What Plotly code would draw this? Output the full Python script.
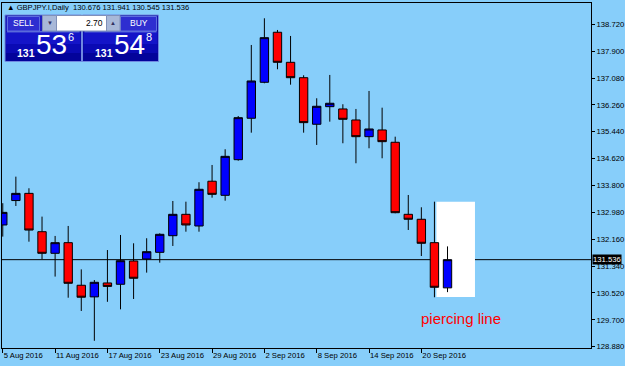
import plotly.graph_objects as go

# ---------------- data ----------------
dates = ["2016-08-05", "2016-08-08", "2016-08-09", "2016-08-10", "2016-08-11", "2016-08-12",
         "2016-08-15", "2016-08-16", "2016-08-17", "2016-08-18", "2016-08-19",
         "2016-08-22", "2016-08-23", "2016-08-24", "2016-08-25", "2016-08-26",
         "2016-08-29", "2016-08-30", "2016-08-31", "2016-09-01", "2016-09-02",
         "2016-09-05", "2016-09-06", "2016-09-07", "2016-09-08", "2016-09-09",
         "2016-09-12", "2016-09-13", "2016-09-14", "2016-09-15", "2016-09-16",
         "2016-09-19", "2016-09-20", "2016-09-21", "2016-09-22"]

opens = [132.595, 133.34, 133.56, 132.39, 131.73, 132.055, 130.755, 130.40, 130.825, 130.785,
         131.495, 131.557, 131.76, 132.268, 132.92, 132.564, 133.93, 133.50, 134.588, 135.852,
         136.95, 138.477, 137.56, 137.09, 135.669, 136.206, 136.136, 135.80, 135.29, 135.495,
         135.119, 132.92, 132.769, 132.055, 130.676]
highs = [133.26, 134.07, 133.715, 132.85, 132.26, 132.565, 131.24, 130.915, 131.83, 132.29,
         132.036, 132.19, 132.34, 133.327, 133.306, 133.90, 134.426, 134.906, 135.92, 138.089,
         138.904, 138.547, 138.364, 137.164, 136.462, 137.174, 136.28, 136.136, 136.685, 136.175,
         135.29, 133.51, 133.135, 133.306, 131.941]
lows = [132.24, 133.175, 132.085, 131.55, 131.02, 130.375, 129.97, 129.06, 130.25, 130.02,
        130.336, 131.14, 131.444, 131.954, 132.39, 132.39, 133.428, 133.336, 134.557, 135.412,
        136.92, 137.348, 136.877, 135.412, 135.037, 135.748, 135.089, 134.478, 134.936, 134.631,
        132.952, 132.442, 131.648, 130.388, 130.545]
closes = [132.98, 133.56, 132.44, 131.73, 132.055, 130.815, 130.39, 130.845, 130.72, 131.505,
          130.968, 131.78, 132.31, 132.92, 132.595, 133.684, 133.53, 134.69, 135.87, 136.99,
          138.312, 137.56, 137.09, 135.718, 136.218, 136.31, 135.82, 135.29, 135.525, 135.138,
          132.97, 132.769, 132.036, 130.693, 131.536]

date_tick_dates = ["2016-08-05", "2016-08-11", "2016-08-17", "2016-08-23", "2016-08-29",
                   "2016-09-02", "2016-09-08", "2016-09-14", "2016-09-20"]
date_tick_labels = ["5 Aug 2016", "11 Aug 2016", "17 Aug 2016", "23 Aug 2016", "29 Aug 2016",
                    "2 Sep 2016", "8 Sep 2016", "14 Sep 2016", "20 Sep 2016"]
price_ticks = [128.880, 129.700, 130.520, 131.340, 132.160, 132.980, 133.800,
               134.620, 135.440, 136.260, 137.080, 137.900, 138.720]
current_price = 131.536
pattern_box = {"x0": 33.15, "x1": 36.1, "y0": 130.40, "y1": 133.30}
symbol_title = "GBPJPY.I,Daily"
sell_price = ("131", "53", "6")
buy_price = ("131", "54", "8")
lot_size = "2.70"

# ---------------- layout geometry ----------------
W_FIG, H_FIG = 625, 366
L, T, R, B = 2, 3, 34, 18
PW, PH = W_FIG - L - R, H_FIG - T - B


def px(x):
    return (x - L) / PW


def py(y):
    return 1 - (y - T) / PH


FONT = "Liberation Sans, Arial, sans-serif"

fig = go.Figure()
fig.add_trace(go.Candlestick(
    x=dates, open=opens, high=highs, low=lows, close=closes,
    increasing=dict(line=dict(color="black", width=1), fillcolor="#0000FF"),
    decreasing=dict(line=dict(color="black", width=1), fillcolor="#FF0000"),
    whiskerwidth=0, showlegend=False, hoverinfo="skip",
))

shapes = []
# pattern highlight box
shapes.append(dict(type="rect", xref="x", yref="y", layer="below",
                   x0=pattern_box["x0"], x1=pattern_box["x1"],
                   y0=pattern_box["y0"], y1=pattern_box["y1"],
                   fillcolor="white", line=dict(width=0)))
# bid line
shapes.append(dict(type="line", xref="paper", yref="y", layer="below",
                   x0=0, x1=1, y0=current_price, y1=current_price,
                   line=dict(color="black", width=1)))


def prect(x0, y0, x1, y1, fill, line=None, lw=0):
    shapes.append(dict(type="rect", xref="paper", yref="paper", layer="above",
                       x0=px(x0), x1=px(x1), y0=py(y1), y1=py(y0),
                       fillcolor=fill,
                       line=dict(color=line or fill, width=lw)))


# one-click trading panel
for (xa, xb) in [(5, 81.5), (82.5, 158.5)]:
    prect(xa, 15, xb, 61.5, "#06069A", "#7088E0", 1)
    prect(xa + 1, 32, xb - 1, 44, "#1414C8")
    prect(xa + 1, 44, xb - 1, 53, "#0A0AB4")
    prect(xa + 1, 53, xb - 1, 61, "#03039A")
    prect(xa + 1, 16, xb - 1, 31.5, "#1E1EC0")
    shapes.append(dict(type="line", xref="paper", yref="paper", layer="above",
                       x0=px(xa + 2), x1=px(xb - 2), y0=py(31.8), y1=py(31.8),
                       line=dict(color="#7890E8", width=1)))
prect(7.5, 16.5, 39.5, 31, "#2E2ED0", "#5C6CE0", 1)
prect(120.5, 16.5, 156.5, 31, "#2E2ED0", "#5C6CE0", 1)
prect(42.5, 15.5, 56.5, 31, "#A8B8D8", "#8090B8", 1)
prect(106.5, 15.5, 120, 31, "#A8B8D8", "#8090B8", 1)
prect(56.5, 15.5, 106.5, 31, "white", "#8090B8", 1)

annotations = []


def ptext(x, y, text, size, color="white", xanchor="center", yanchor="middle", weight="normal"):
    annotations.append(dict(xref="paper", yref="paper", x=px(x), y=py(y), text=text,
                            showarrow=False, xanchor=xanchor, yanchor=yanchor,
                            font=dict(family=FONT, size=size, color=color, weight=weight)))


header_values = " ".join(f"{v:.3f}" for v in (opens[-1], highs[-1], lows[-1], closes[-1]))
ptext(5, 7, "\u25B2 " + symbol_title + "  " + header_values, 7.6, "black", xanchor="left")
ptext(23.5, 23.5, "SELL", 8.5)
ptext(138.5, 23.5, "BUY", 8.5)
ptext(49.5, 23.5, "\u25BC", 6, "#303060")
ptext(113.3, 23.5, "\u25B2", 6, "#303060")
ptext(104.5, 23.5, lot_size, 8.5, "black", xanchor="right")
for (x_small, x_big, x_sup, parts) in [(25.5, 51.5, 70.5, sell_price), (103.5, 129.5, 148.5, buy_price)]:
    ptext(x_small, 52.5, parts[0], 10.5, weight="bold")
    ptext(x_big, 45, parts[1], 28)
    ptext(x_sup, 37, parts[2], 11)

# pattern label
annotations.append(dict(xref="paper", yref="paper", x=px(461), y=py(318), text="piercing line",
                        showarrow=False, xanchor="center", yanchor="middle",
                        font=dict(family=FONT, size=15, color="#FF0000")))
# current price tag
annotations.append(dict(xref="paper", yref="y", x=1, y=current_price, text=f"{current_price:.3f}",
                        showarrow=False, xanchor="left", yanchor="middle", xshift=1,
                        bgcolor="black", borderpad=0,
                        font=dict(family=FONT, size=7.7, color="white")))

fig.update_layout(
    width=W_FIG, height=H_FIG,
    margin=dict(l=L, r=R, t=T, b=B, pad=0, autoexpand=False),
    paper_bgcolor="#87CEFA", plot_bgcolor="#87CEFA",
    shapes=shapes, annotations=annotations,
    showlegend=False, boxgap=0.2, boxgroupgap=0.2,
    font=dict(family=FONT, size=7.7, color="black"),
)
fig.update_xaxes(
    type="category", range=[-0.06, 44.97], automargin=False,
    tickvals=date_tick_dates, ticktext=date_tick_labels, tickangle=0,
    ticks="outside", ticklen=4, tickcolor="black", tickwidth=1,
    ticklabelposition="outside right",
    showgrid=False, zeroline=False, showline=True, linecolor="black", linewidth=1, mirror=True,
    rangeslider=dict(visible=False), tickfont=dict(size=7.7, family=FONT, color="black"),
)
fig.update_yaxes(
    side="right", range=[128.84, 139.37], automargin=False,
    tickvals=price_ticks, ticktext=[f"{v:.3f}" for v in price_ticks],
    ticks="outside", ticklen=3, tickcolor="black", tickwidth=1,
    showgrid=False, zeroline=False, showline=True, linecolor="black", linewidth=1, mirror=True,
    tickfont=dict(size=7.7, family=FONT, color="black"),
)

fig.write_html("out.html")
